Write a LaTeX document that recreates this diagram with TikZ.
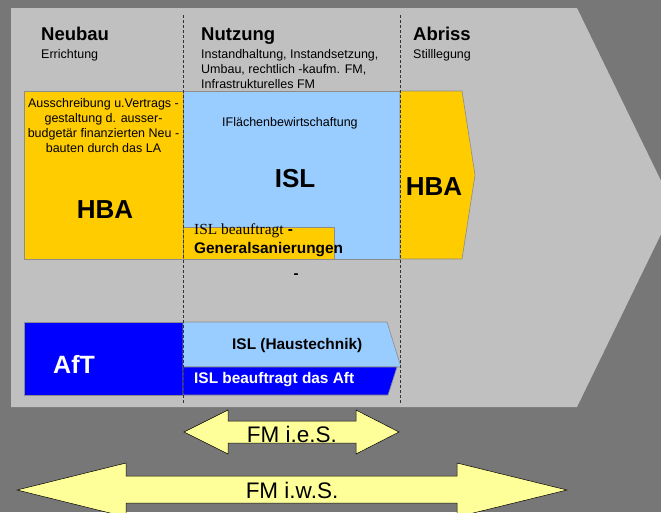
\documentclass[tikz,border=0pt]{standalone}
\usepackage{fontspec}
\setmainfont{Liberation Sans}
\newfontfamily\timesfont{Liberation Serif}
\definecolor{bgdark}{HTML}{777777}
\definecolor{chevgray}{HTML}{C0C0C0}
\definecolor{hbayellow}{HTML}{FFCC00}
\definecolor{islblue}{HTML}{99CCFF}
\definecolor{aftblue}{HTML}{0000FF}
\definecolor{fmyellow}{HTML}{FFFF99}
\definecolor{boxline}{HTML}{8C8C8C}
\tikzset{
  box/.style={draw=boxline,line width=0.6pt},
  phase/.style={draw=black!80,line width=0.8pt,dash pattern=on 3pt off 2pt},
  fmarrow/.style={draw=black,fill=fmyellow,line width=0.5pt},
  head/.style={inner sep=0pt,anchor=base west,font=\bfseries\fontsize{18.5}{22}\selectfont},
  small/.style={inner sep=0pt,font=\fontsize{12.5}{15}\selectfont},
  mid/.style={inner sep=0pt,anchor=base west,font=\bfseries\fontsize{15.4}{18}\selectfont},
  big/.style={inner sep=0pt,font=\bfseries\fontsize{26}{30}\selectfont},
  fmtext/.style={inner sep=0pt,anchor=base,font=\fontsize{22.5}{26}\selectfont}
}
\begin{document}
\begin{tikzpicture}[x=1pt,y=-1pt]
  \fill[bgdark] (0,0) rectangle (661,512);
  \useasboundingbox (0,0) rectangle (661,512);
  \clip (0,0) rectangle (661,512);
  % grey chevron
  \fill[chevgray] (11,8) -- (577,8) -- (674,207.5) -- (577,407) -- (11,407) -- cycle;
  % phase headers
  \node[head] (neubau) at (41,40) {Neubau};
  \node[head] (nutzung) at (201,40) {Nutzung};
  \node[head] (abriss) at (413,40) {Abriss};
  \node[small,anchor=base west] (errichtung) at (41,58) {Errichtung};
  \node[small,anchor=base west] (stilllegung) at (413,58) {Stilllegung};
  \foreach \t [count=\i] in {{Instandhaltung, Instandsetzung,},{Umbau, rechtlich -kaufm. FM,},{Infrastrukturelles FM}}
    \node[small,anchor=base west] (nutz\i) at (201,43+15*\i) {\t};
  % upper row
  \draw[box,fill=hbayellow] (24,91) rectangle (183,259);
  \draw[box,fill=islblue] (183,91) rectangle (400,259);
  \draw[box,fill=hbayellow] (183,227) rectangle (334,259);
  \draw[box,fill=hbayellow] (400,91) -- (462,91) -- (475,175) -- (462,259) -- (400,259) -- cycle;
  \foreach \t [count=\i] in {{Ausschreibung u.Vertrags -},{gestaltung d. ausser-},{budgetär finanzierten Neu -},{bauten durch das LA}}
    \node[small,anchor=base] (neu\i) at (103.5,92+15*\i) {\t};
  \node[big,anchor=base] (hbaneu) at (105,218) {HBA};
  \node[small,anchor=base west] (flaeche) at (222,126) {IFlächenbewirtschaftung};
  \node[big,anchor=base] (isl) at (295,187) {ISL};
  \node[big,anchor=base] (hbaab) at (434,195) {HBA};
  \node[inner sep=0pt,anchor=base west,font=\fontsize{15.4}{18}\selectfont] (islgs) at (194,234)
    {{\timesfont ISL beauftragt} \textbf{-}};
  \node[mid] (gs) at (194,253) {Generalsanierungen};
  \node[inner sep=0pt,anchor=base,font=\bfseries\fontsize{15}{18}\selectfont] (strich) at (296,278) {-};
  % lower row
  \draw[box,fill=aftblue] (24,322) rectangle (183,395);
  \draw[box,fill=islblue] (183,322) -- (387,322) -- (401,367) -- (183,367) -- cycle;
  \draw[box,fill=aftblue] (183,367) -- (397,367) -- (388,395) -- (183,395) -- cycle;
  \node[big,anchor=base west,text=white,font=\bfseries\fontsize{25}{30}\selectfont] (aft) at (53,373) {AfT};
  \node[mid] (haus) at (232,349) {ISL (Haustechnik)};
  \node[mid,text=white] (islaft) at (194,383) {ISL beauftragt das Aft};
  % phase borders
  \foreach \x in {183,400}
    \draw[phase] (\x,15) -- (\x,403);
  % FM arrows
  \draw[fmarrow] (184,432) -- (228,410) -- (228,421) -- (356,421) -- (356,410) -- (399,432)
    -- (356,454) -- (356,443) -- (228,443) -- (228,454) -- cycle;
  \draw[fmarrow] (17,490) -- (126,463) -- (126,476) -- (457,476) -- (457,463) -- (567,490)
    -- (457,517) -- (457,503) -- (126,503) -- (126,517) -- cycle;
  \node[fmtext] (fmies) at (292,442) {FM i.e.S.};
  \node[fmtext] (fmiws) at (292,498) {FM i.w.S.};
\end{tikzpicture}
\end{document}
